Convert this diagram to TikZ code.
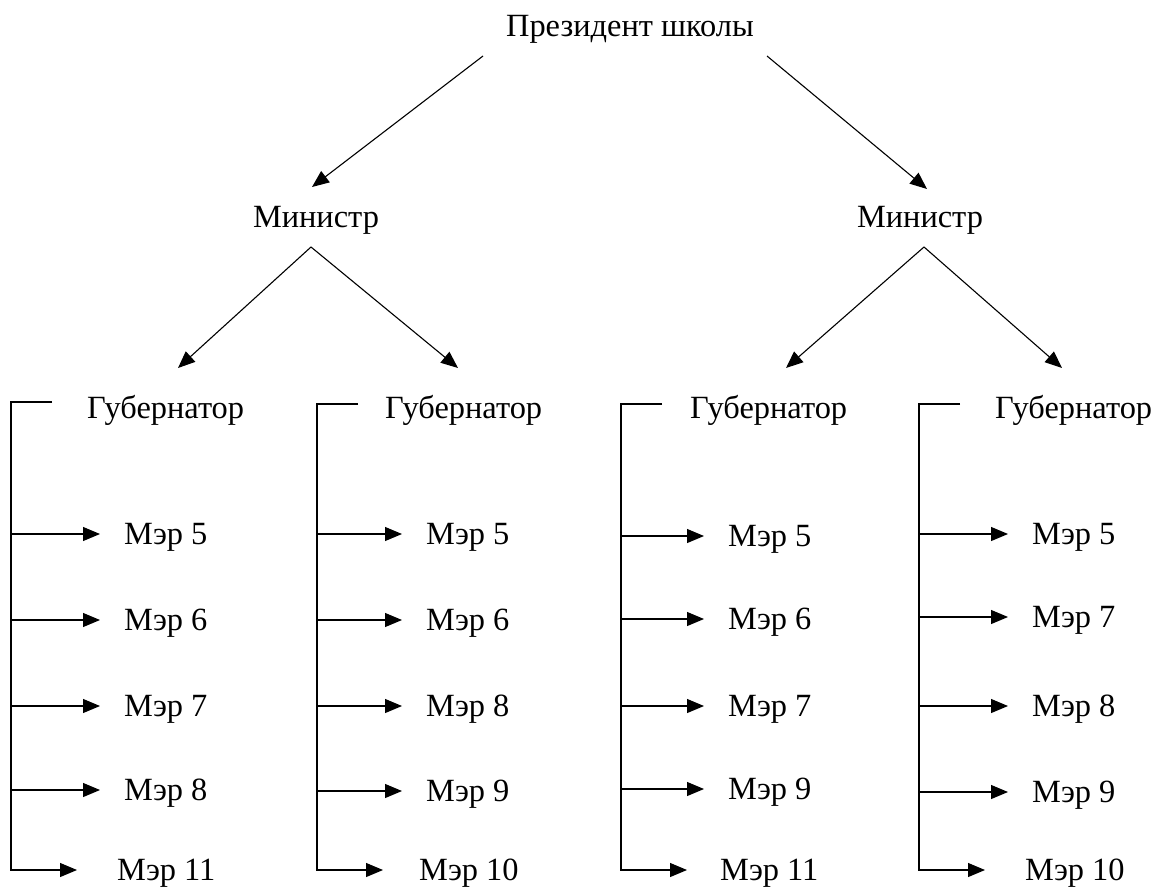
\documentclass[tikz,border=0pt]{standalone}
\usepackage{fontspec}
\newfontfamily\tnr{Liberation Serif}
\usetikzlibrary{arrows.meta,calc}
\begin{document}
\begin{tikzpicture}[x=1pt,y=-1pt,
  lbl/.style={inner sep=0pt,font=\tnr\fontsize{32.4}{38}\selectfont},
  lvl/.style={lbl,text height=21pt,text depth=0pt,anchor=west},
  conn/.style={line width=1.1pt},
  arr/.style={conn,-{Triangle[length=17pt,width=14pt]}}]
\useasboundingbox (0,0) rectangle (1155,888);
% top levels
\node[lbl,anchor=base] (pres) at (630,37) {Президент школы};
\node[lbl,anchor=base] (minL) at (316,227) {Министр};
\node[lbl,anchor=base] (minR) at (920,227) {Министр};
% governors
\node[lvl] (g1) at (87,408) {Губернатор};
\node[lvl] (g2) at (385,408) {Губернатор};
\node[lvl] (g3) at (690,408) {Губернатор};
\node[lvl] (g4) at (995,408) {Губернатор};
% mayors col 1
\node[lvl] (m11) at (124,534) {Мэр 5};
\node[lvl] (m12) at (124,620) {Мэр 6};
\node[lvl] (m13) at (124,706) {Мэр 7};
\node[lvl] (m14) at (124,790) {Мэр 8};
\node[lvl] (m15) at (117,870) {Мэр 11};
% col 2
\node[lvl] (m21) at (426,534) {Мэр 5};
\node[lvl] (m22) at (426,620) {Мэр 6};
\node[lvl] (m23) at (426,706) {Мэр 8};
\node[lvl] (m24) at (426,791) {Мэр 9};
\node[lvl] (m25) at (419,870) {Мэр 10};
% col 3
\node[lvl] (m31) at (728,536) {Мэр 5};
\node[lvl] (m32) at (728,619) {Мэр 6};
\node[lvl] (m33) at (728,706) {Мэр 7};
\node[lvl] (m34) at (728,789) {Мэр 9};
\node[lvl] (m35) at (720,870) {Мэр 11};
% col 4
\node[lvl] (m41) at (1032,534) {Мэр 5};
\node[lvl] (m42) at (1032,617) {Мэр 7};
\node[lvl] (m43) at (1032,706) {Мэр 8};
\node[lvl] (m44) at (1032,792) {Мэр 9};
\node[lvl] (m45) at (1025,870) {Мэр 10};
% president -> ministers
\draw[arr] ($(pres.base)+(-147,19)$) -- ($(minL.base)+(-4,-40)$);
\draw[arr] ($(pres.base)+(137,19)$) -- ($(minR.base)+(7,-38)$);
% ministers -> governors
\draw[arr] ($(minL.base)+(-5,20)$) -- ($(g1.west)+(91,-40)$);
\draw[arr] ($(minL.base)+(-5,20)$) -- ($(g2.west)+(73,-40)$);
\draw[arr] ($(minR.base)+(4,20)$) -- ($(g3.west)+(96,-40)$);
\draw[arr] ($(minR.base)+(4,20)$) -- ($(g4.west)+(67,-40)$);
% brackets
\coordinate (v1) at (11,402);
\coordinate (v2) at (317,404);
\coordinate (v3) at (621,404);
\coordinate (v4) at (919,404);
\draw[arr] ($(g1.west)+(-35,-6)$) -- (v1) |- ([xshift=-40pt]m15.west);
\draw[arr] ($(g2.west)+(-27,-4)$) -- (v2) |- ([xshift=-36pt]m25.west);
\draw[arr] ($(g3.west)+(-28,-4)$) -- (v3) |- ([xshift=-33pt]m35.west);
\draw[arr] ($(g4.west)+(-35,-4)$) -- (v4) |- ([xshift=-40pt]m45.west);
\foreach \c in {1,2,3,4}{
  \foreach \r in {1,2,3,4}{
    \draw[arr] (v\c |- m\c\r.west) -- ([xshift=-24pt]m\c\r.west);
  }
}
\end{tikzpicture}
\end{document}
